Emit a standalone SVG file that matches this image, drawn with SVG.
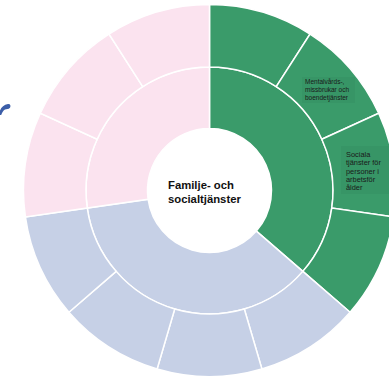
<svg xmlns="http://www.w3.org/2000/svg" width="389" height="380" viewBox="0 0 389 380">
<style>
.g{fill:#3a9b6a}
.b{fill:#c6d0e6}
.p{fill:#fbe3ef}
.seg{stroke:#ffffff;stroke-width:1.5;stroke-linejoin:miter}
.title{font-family:"Liberation Sans",Arial,sans-serif;font-weight:bold;font-size:11.3px;fill:#111}
.lbl{font-family:"Liberation Sans",Arial,sans-serif;fill:#1a1a1a}
.lblbg{fill:#000;fill-opacity:0.035}
</style>
<rect width="389" height="380" fill="#ffffff"/>
<path d="M0,110.5 C1.5,107 4,104.5 8,104 C10.5,103.8 11,106 10,107.8 C8.5,109.5 6.5,108.8 5,109.5 C3.5,110.3 2.3,112 1.2,115 L0,115 Z" fill="#3c5ea8"/>
<g id="inner">
<g id="inner-green"><path class="seg g" d="M209.5,67 A123.5,123.5 0 0 1 302.84,271.38 L256.36,231.10 A62,62 0 0 0 209.5,128.5 Z"/></g>
<g id="inner-blue"><path class="seg b" d="M302.84,271.38 A123.5,123.5 0 0 1 87.26,208.08 L148.13,199.32 A62,62 0 0 0 256.36,231.10 Z"/></g>
<g id="inner-pink"><path class="seg p" d="M87.26,208.08 A123.5,123.5 0 0 1 209.5,67 L209.5,128.5 A62,62 0 0 0 148.13,199.32 Z"/></g>
</g>
<g id="outer">
<g id="g1"><path class="seg g" d="M209.5,4.5 A186,186 0 0 1 310.06,34.03 L276.27,86.61 A123.5,123.5 0 0 0 209.5,67 Z"/></g>
<g id="g2"><path class="seg g" d="M310.06,34.03 A186,186 0 0 1 378.69,113.23 L321.84,139.20 A123.5,123.5 0 0 0 276.27,86.61 Z"/></g>
<g id="g3"><path class="seg g" d="M378.69,113.23 A186,186 0 0 1 393.61,216.97 L331.74,208.08 A123.5,123.5 0 0 0 321.84,139.20 Z"/></g>
<g id="g4"><path class="seg g" d="M393.61,216.97 A186,186 0 0 1 350.07,312.30 L302.84,271.38 A123.5,123.5 0 0 0 331.74,208.08 Z"/></g>
<g id="b1"><path class="seg b" d="M350.07,312.30 A186,186 0 0 1 261.90,368.97 L244.29,309.00 A123.5,123.5 0 0 0 302.84,271.38 Z"/></g>
<g id="b2"><path class="seg b" d="M261.90,368.97 A186,186 0 0 1 157.10,368.97 L174.71,309.00 A123.5,123.5 0 0 0 244.29,309.00 Z"/></g>
<g id="b3"><path class="seg b" d="M157.10,368.97 A186,186 0 0 1 68.93,312.30 L116.17,271.38 A123.5,123.5 0 0 0 174.71,309.00 Z"/></g>
<g id="b4"><path class="seg b" d="M68.93,312.30 A186,186 0 0 1 25.39,216.97 L87.26,208.08 A123.5,123.5 0 0 0 116.17,271.38 Z"/></g>
<g id="p1"><path class="seg p" d="M25.39,216.97 A186,186 0 0 1 40.31,113.23 L97.16,139.20 A123.5,123.5 0 0 0 87.26,208.08 Z"/></g>
<g id="p2"><path class="seg p" d="M40.31,113.23 A186,186 0 0 1 108.94,34.03 L142.73,86.61 A123.5,123.5 0 0 0 97.16,139.20 Z"/></g>
<g id="p3"><path class="seg p" d="M108.94,34.03 A186,186 0 0 1 209.5,4.5 L209.5,67 A123.5,123.5 0 0 0 142.73,86.61 Z"/></g>
</g>
<g id="connectors"></g>
<g id="center-label">
<text class="title" x="168" y="188.5">Familje- och</text>
<text class="title" x="168" y="202.5">socialtjänster</text>
</g>
<g id="label-mental">
<rect class="lblbg" x="302" y="77" width="53" height="26"/>
<text class="lbl" font-size="6.5" x="305" y="84.3">Mentalvårds-,</text>
<text class="lbl" font-size="6.5" x="305" y="92.3">missbrukar och</text>
<text class="lbl" font-size="6.5" x="305" y="100.3">boendetjänster</text>
</g>
<g id="label-sociala">
<rect class="lblbg" x="341" y="146" width="48" height="48"/>
<text class="lbl" font-size="7.4" x="346" y="156.7">Sociala</text>
<text class="lbl" font-size="7.4" x="346" y="165.1">tjänster för</text>
<text class="lbl" font-size="7.4" x="346" y="173.5">personer i</text>
<text class="lbl" font-size="7.4" x="346" y="181.9">arbetsför</text>
<text class="lbl" font-size="7.4" x="346" y="190.3">ålder</text>
</g>
</svg>
